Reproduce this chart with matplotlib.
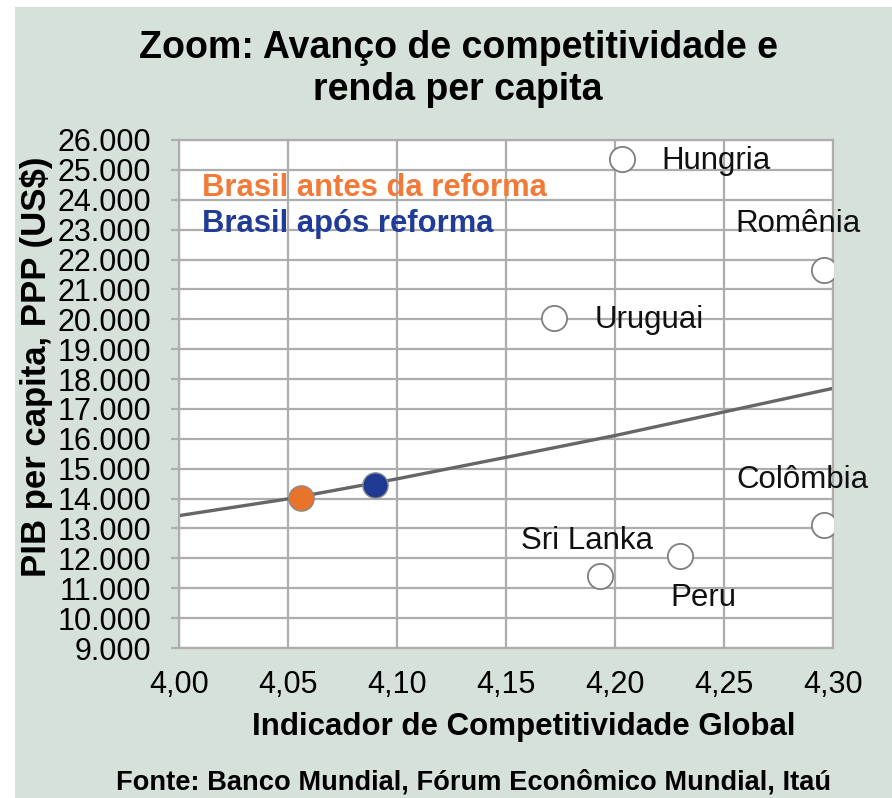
import matplotlib
matplotlib.use('Agg')
import matplotlib.pyplot as plt
from matplotlib.patches import Rectangle
from matplotlib.ticker import FuncFormatter, MultipleLocator

plt.rcParams['font.family'] = ['Liberation Sans', 'DejaVu Sans']

# paises de comparacao (circulos vazios)
countries = ['Hungria', 'Romênia', 'Uruguai', 'Colômbia', 'Sri Lanka', 'Peru']
country_x = [4.203, 4.296, 4.172, 4.296, 4.193, 4.230]
country_y = [25380, 21640, 20050, 13110, 11420, 12080]

# Brasil antes / depois
brasil_labels = ['Brasil antes da reforma', 'Brasil após reforma']
brasil_x = [4.056, 4.090]
brasil_y = [14010, 14450]

# linha de tendencia
trend_x = [4.00, 4.05, 4.10, 4.15, 4.20, 4.25, 4.30]
trend_y = [13430, 13990, 14660, 15380, 16110, 16900, 17690]

# deslocamento dos rotulos (pixels)
label_offsets = {
    'Hungria': (94, -2),
    'Romênia': (-26, 46),
    'Uruguai': (95, -2),
    'Colômbia': (-22, 45),
    'Sri Lanka': (-13, 35),
    'Peru': (23, -42),
}

W, H = 892, 798
fig = plt.figure(figsize=(W / 100, H / 100), dpi=100)
fig.patch.set_facecolor('white')
fig.add_artist(Rectangle((15 / W, 0), 1 - 15 / W, 1 - 7 / H, transform=fig.transFigure,
                         facecolor='#d7e1dc', edgecolor='none', zorder=0))

ax = fig.add_axes([179 / W, 1 - 648 / H, 654 / W, 508 / H])
ax.set_facecolor('white')

grid_c = '#adadad'
ax.set_xlim(4.0, 4.3)
ax.set_ylim(9000, 26000)
ax.xaxis.set_major_locator(MultipleLocator(0.05))
ax.yaxis.set_major_locator(MultipleLocator(1000))
ax.xaxis.set_major_formatter(FuncFormatter(lambda v, p: '{:.2f}'.format(v).replace('.', ',')))
ax.yaxis.set_major_formatter(FuncFormatter(lambda v, p: '{:,.0f}'.format(v).replace(',', '.')))
ax.grid(True, color=grid_c, linewidth=1.6)
ax.set_axisbelow(True)
for s in ax.spines.values():
    s.set_color(grid_c)
    s.set_linewidth(1.6)
ax.tick_params(axis='y', length=6, width=1.6, color=grid_c, pad=14, labelsize=22)
ax.tick_params(axis='x', length=0, pad=16, labelsize=22)

ax.plot(trend_x, trend_y, color='#666666', linewidth=2.4, zorder=2)

ax.scatter(country_x, country_y, s=330, facecolor='white', edgecolor='#7f7f7f',
           linewidth=1.3, zorder=3)
ax.scatter(brasil_x[0], brasil_y[0], s=330, facecolor='#e8742c', edgecolor='#8a8a8a',
           linewidth=1.0, zorder=4)
ax.scatter(brasil_x[1], brasil_y[1], s=330, facecolor='#1f3a93', edgecolor='#8a8a8a',
           linewidth=1.0, zorder=4)

for name, x, y in zip(countries, country_x, country_y):
    ax.annotate(name, (x, y), xytext=label_offsets[name], textcoords='offset pixels',
                ha='center', va='center', fontsize=22.5, color='#111111', zorder=5,
                annotation_clip=False)

ax.text(0.035, 0.906, brasil_labels[0], transform=ax.transAxes, fontsize=22.3,
        fontweight='bold', color='#f27a38', va='center', ha='left')
ax.text(0.035, 0.835, brasil_labels[1], transform=ax.transAxes, fontsize=22.3,
        fontweight='bold', color='#203c96', va='center', ha='left')

fig.text(458 / W, 1 - 69 / H, 'Zoom: Avanço de competitividade e\nrenda per capita',
         ha='center', va='center', fontsize=27, fontweight='bold', linespacing=1.2)
fig.text(37 / W, 1 - 367 / H, 'PIB per capita, PPP (US$)', rotation=90,
         ha='center', va='center', fontsize=25, fontweight='bold')
fig.text(524 / W, 1 - 727 / H, 'Indicador de Competitividade Global',
         ha='center', va='center', fontsize=22.5, fontweight='bold')
fig.text(473 / W, 1 - 783 / H, 'Fonte: Banco Mundial, Fórum Econômico Mundial, Itaú',
         ha='center', va='center', fontsize=19.6, fontweight='bold')

fig.savefig('out.png', dpi=100)
